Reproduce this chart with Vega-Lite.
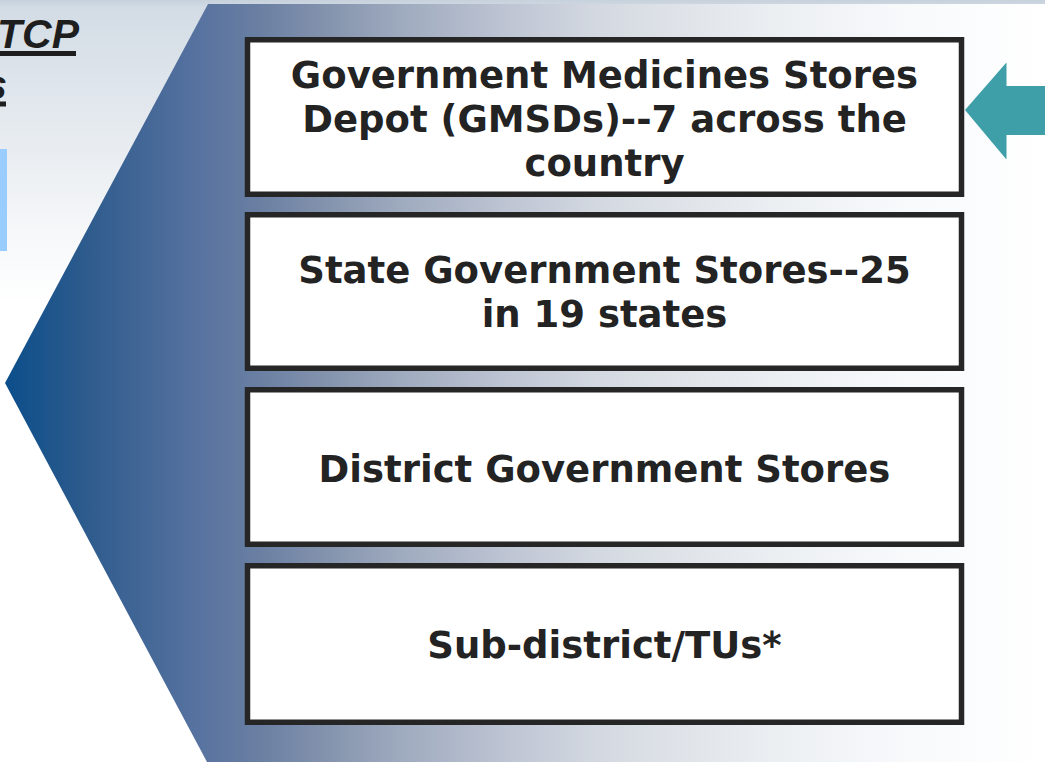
{
  "$schema": "https://vega.github.io/schema/vega-lite/v6.json",
  "width": 1045,
  "height": 762,
  "padding": 0,
  "autosize": {"type": "none"},
  "background": "#ffffff",
  "config": {"view": {"stroke": null}},
  "layer": [
    {
      "data": {"values": [{"x": 0, "x2": 1045, "y": 0, "y2": 762}]},
      "mark": {"type": "rect", "color": {"gradient": "linear", "x1": 0, "y1": 0, "x2": 0, "y2": 1, "stops": [
        {"offset": 0, "color": "#c6d1dc"},
        {"offset": 0.01, "color": "#d3dce5"},
        {"offset": 0.1, "color": "#dde4eb"},
        {"offset": 0.2, "color": "#e9edf1"},
        {"offset": 0.3, "color": "#f5f7f9"},
        {"offset": 0.4, "color": "#ffffff"},
        {"offset": 1, "color": "#ffffff"}]}},
      "encoding": {
        "x": {"field": "x", "type": "quantitative", "scale": {"domain": [0, 1045], "nice": false, "zero": false}, "axis": null},
        "x2": {"field": "x2"},
        "y": {"field": "y", "type": "quantitative", "scale": {"domain": [0, 762], "nice": false, "zero": false, "reverse": true}, "axis": null},
        "y2": {"field": "y2"}
      }
    },
    {
      "data": {"values": [
        {"y": 4, "x": 208, "x2": 1045},
        {"y": 383, "x": 5, "x2": 1045},
        {"y": 762, "x": 207, "x2": 1045}
      ]},
      "mark": {"type": "area", "orient": "horizontal", "color": {"gradient": "linear", "x1": 0, "y1": 0, "x2": 1, "y2": 0, "stops": [
        {"offset": 0, "color": "#0b4e8b"},
        {"offset": 0.072, "color": "#2b5a8c"},
        {"offset": 0.1875, "color": "#5873a0"},
        {"offset": 0.245, "color": "#6a7fa2"},
        {"offset": 0.312, "color": "#8594ae"},
        {"offset": 0.38, "color": "#9eaabe"},
        {"offset": 0.476, "color": "#bcc3d2"},
        {"offset": 0.572, "color": "#d4d9e1"},
        {"offset": 0.668, "color": "#e2e6eb"},
        {"offset": 0.764, "color": "#eef1f4"},
        {"offset": 0.861, "color": "#f7f9fb"},
        {"offset": 1, "color": "#ffffff"}]}},
      "encoding": {
        "y": {"field": "y", "type": "quantitative"},
        "x": {"field": "x", "type": "quantitative", "stack": null},
        "x2": {"field": "x2"}
      }
    },
    {
      "data": {"values": [{"x": 0, "x2": 7, "y": 149, "y2": 251}]},
      "mark": {"type": "rect", "color": "#99ccff"},
      "encoding": {
        "x": {"field": "x", "type": "quantitative"},
        "x2": {"field": "x2"},
        "y": {"field": "y", "type": "quantitative"},
        "y2": {"field": "y2"}
      }
    },
    {
      "data": {"values": [
        {"x": 79, "y": 48, "t": "RNTCP"},
        {"x": 7, "y": 99, "t": "Drugs"}
      ]},
      "mark": {"type": "text", "align": "right", "baseline": "alphabetic", "font": "Liberation Sans", "fontWeight": "bold", "fontStyle": "italic", "fontSize": 41, "color": "#1e1e1e"},
      "encoding": {
        "x": {"field": "x", "type": "quantitative"},
        "y": {"field": "y", "type": "quantitative"},
        "text": {"field": "t"}
      }
    },
    {
      "data": {"values": [
        {"x": 0, "x2": 76, "y": 53.5},
        {"x": 0, "x2": 6, "y": 104}
      ]},
      "mark": {"type": "rule", "strokeWidth": 5, "color": "#1e1e1e"},
      "encoding": {
        "x": {"field": "x", "type": "quantitative"},
        "x2": {"field": "x2"},
        "y": {"field": "y", "type": "quantitative"}
      }
    },
    {
      "data": {"values": [
        {"x": 247.5, "x2": 961.5, "y": 39.7, "y2": 194.3},
        {"x": 247.5, "x2": 961.5, "y": 214.7, "y2": 368.3},
        {"x": 247.5, "x2": 961.5, "y": 389.7, "y2": 544.3},
        {"x": 247.5, "x2": 961.5, "y": 565.7, "y2": 722.3}
      ]},
      "mark": {"type": "rect", "fill": "#ffffff", "stroke": "#262626", "strokeWidth": 5.5},
      "encoding": {
        "x": {"field": "x", "type": "quantitative"},
        "x2": {"field": "x2"},
        "y": {"field": "y", "type": "quantitative"},
        "y2": {"field": "y2"}
      }
    },
    {
      "data": {"values": [
        {"x": 604.5, "y": 77, "t": "Government Medicines Stores"},
        {"x": 604.5, "y": 121, "t": "Depot (GMSDs)--7 across the"},
        {"x": 604.5, "y": 165, "t": "country"},
        {"x": 604.5, "y": 272, "t": "State Government Stores--25"},
        {"x": 604.5, "y": 316, "t": "in 19 states"},
        {"x": 604.5, "y": 471, "t": "District Government Stores"},
        {"x": 604.5, "y": 647, "t": "Sub-district/TUs*"}
      ]},
      "mark": {"type": "text", "align": "center", "baseline": "middle", "font": "DejaVu Sans", "fontWeight": "bold", "fontSize": 37, "color": "#232323"},
      "encoding": {
        "x": {"field": "x", "type": "quantitative"},
        "y": {"field": "y", "type": "quantitative"},
        "text": {"field": "t"}
      }
    },
    {
      "data": {"values": [
        {"y": 63, "x": 1006, "x2": 1006.5},
        {"y": 110, "x": 965, "x2": 1006.5},
        {"y": 159, "x": 1006, "x2": 1006.5}
      ]},
      "mark": {"type": "area", "orient": "horizontal", "color": "#3f9fa9"},
      "encoding": {
        "y": {"field": "y", "type": "quantitative"},
        "x": {"field": "x", "type": "quantitative", "stack": null},
        "x2": {"field": "x2"}
      }
    },
    {
      "data": {"values": [{"x": 1005, "x2": 1045, "y": 86, "y2": 135}]},
      "mark": {"type": "rect", "color": "#3f9fa9"},
      "encoding": {
        "x": {"field": "x", "type": "quantitative"},
        "x2": {"field": "x2"},
        "y": {"field": "y", "type": "quantitative"},
        "y2": {"field": "y2"}
      }
    }
  ]
}
